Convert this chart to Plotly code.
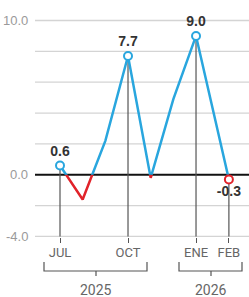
import plotly.graph_objects as go

# ---- data ----
months = ["JUL", "AGO", "SEP", "OCT", "NOV", "DIC", "ENE", "FEB"]
x_pos = [0, 1, 2, 3, 4, 5, 6, 7.45]
values = [0.6, -1.6, 2.2, 7.7, -0.2, 4.9, 9.0, -0.3]
labeled = ["JUL", "OCT", "ENE", "FEB"]
years = ["2025", "2026"]
grid_vals = [-4, -2, 0, 2, 4, 6, 8, 10]
y_label_vals = [10, 0, -4]
y_label_text = ["10.0", "0.0", "-4.0"]

BLUE = "#29a6de"
RED = "#e1232a"
COND = "Roboto, Liberation Sans, sans-serif"
REG = "Liberation Sans, Arial, sans-serif"

W, H = 249, 297
ML, MR, MT, MB = 35, 0, 17, 60
y_lo, y_hi = -4.032, 10.227
x_lo, x_hi = -1.103, 8.337
f0 = (0 - y_lo) / (y_hi - y_lo)

fig = go.Figure()

# gridlines and zero line
for g in grid_vals:
    if g == 0:
        continue
    fig.add_shape(type="line", xref="paper", yref="y", x0=0, x1=1, y0=g, y1=g,
                  line=dict(color="#d4d4d4", width=1.3), layer="below")
fig.add_shape(type="line", xref="paper", yref="y", x0=0, x1=1, y0=0, y1=0,
              line=dict(color="#111111", width=2), layer="below")

for v, t in zip(y_label_vals, y_label_text):
    fig.add_annotation(x=0, y=v, xref="paper", yref="y", text=t, showarrow=False,
                       xanchor="right", yanchor="middle", xshift=-5,
                       font=dict(family=REG, size=13, color="#9a9a9a"))

# line above zero (own subplot clipped to the positive half)
fig.add_trace(go.Scatter(x=x_pos, y=values, mode="lines", xaxis="x3", yaxis="y3",
                         line=dict(color=BLUE, width=2.5), hoverinfo="skip", showlegend=False))
# line below zero (own subplot clipped to the negative half)
fig.add_trace(go.Scatter(x=x_pos, y=values, mode="lines", xaxis="x2", yaxis="y2",
                         line=dict(color=RED, width=2.5), hoverinfo="skip", showlegend=False))

lx = [x_pos[months.index(m)] for m in labeled]
ly = [values[months.index(m)] for m in labeled]
lcol = [BLUE if v >= 0 else RED for v in ly]
ltxt = [f"{v:.1f}" for v in ly]
lpos = ["top center" if v >= 0 else "bottom center" for v in ly]

# vertical drop lines
for xv, yv in zip(lx, ly):
    fig.add_shape(type="line", xref="x", yref="y", x0=xv, x1=xv, y0=-4, y1=yv,
                  line=dict(color="#555555", width=1.2), layer="below")

fig.add_trace(go.Scatter(x=lx, y=ly, mode="markers+text", text=ltxt, textposition=lpos,
                         xaxis="x4", yaxis="y4",
                         textfont=dict(family=REG, size=14, color="#333333", weight="bold"),
                         marker=dict(symbol="circle", size=8, color="white",
                                     line=dict(color=lcol, width=2)),
                         cliponaxis=False, hoverinfo="skip", showlegend=False))

# year brackets (paper coords)
def px_x(p):
    return (p - ML) / (W - ML - MR)

def px_y(p):
    return (H - MB - p) / (H - MT - MB)

brackets = [(44, 147, 96), (179, 242, 211)]
for (a, b, c), yr in zip(brackets, years):
    path = (f"M {px_x(a)},{px_y(262)} L {px_x(a)},{px_y(271)} L {px_x(b)},{px_y(271)} "
            f"L {px_x(b)},{px_y(262)} M {px_x(c)},{px_y(271)} L {px_x(c)},{px_y(276)}")
    fig.add_shape(type="path", xref="paper", yref="paper", path=path,
                  line=dict(color="#555555", width=1.2))
    fig.add_annotation(x=px_x(c), y=px_y(290), xref="paper", yref="paper", text=yr,
                       showarrow=False, xanchor="center", yanchor="middle",
                       font=dict(family=COND, size=14, color="#666666"))

hidden_x = dict(range=[x_lo, x_hi], domain=[0, 1], visible=False, showgrid=False,
                zeroline=False, fixedrange=True)
hidden_y = dict(visible=False, showgrid=False, zeroline=False, fixedrange=True)

fig.update_layout(
    width=W, height=H,
    margin=dict(l=ML, r=MR, t=MT, b=MB),
    paper_bgcolor="white", plot_bgcolor="rgba(0,0,0,0)",
    xaxis=dict(range=[x_lo, x_hi], domain=[0, 1], tickvals=lx, ticktext=labeled,
               ticks="outside", ticklen=5, tickcolor="#555555", tickwidth=1.2,
               showgrid=False, zeroline=False, showline=False, ticklabelstandoff=-2,
               tickfont=dict(family=COND, size=13, color="#666666"),
               anchor="y", fixedrange=True),
    yaxis=dict(range=[y_lo, y_hi], domain=[0, 1], anchor="x", showgrid=False,
               zeroline=False, showticklabels=False, ticks="", showline=False,
               fixedrange=True),
    xaxis2=dict(anchor="y2", **hidden_x),
    yaxis2=dict(range=[y_lo, 0], domain=[0, f0], anchor="x2", **hidden_y),
    xaxis3=dict(anchor="y3", **hidden_x),
    yaxis3=dict(range=[0, y_hi], domain=[f0, 1], anchor="x3", **hidden_y),
    xaxis4=dict(anchor="y4", **hidden_x),
    yaxis4=dict(range=[y_lo, y_hi], domain=[0, 1], anchor="x4", **hidden_y),
    showlegend=False,
)

fig.write_html("out.html", config=dict(displayModeBar=False),
               post_script="document.body.style.margin='0';document.body.style.overflow='hidden';")
